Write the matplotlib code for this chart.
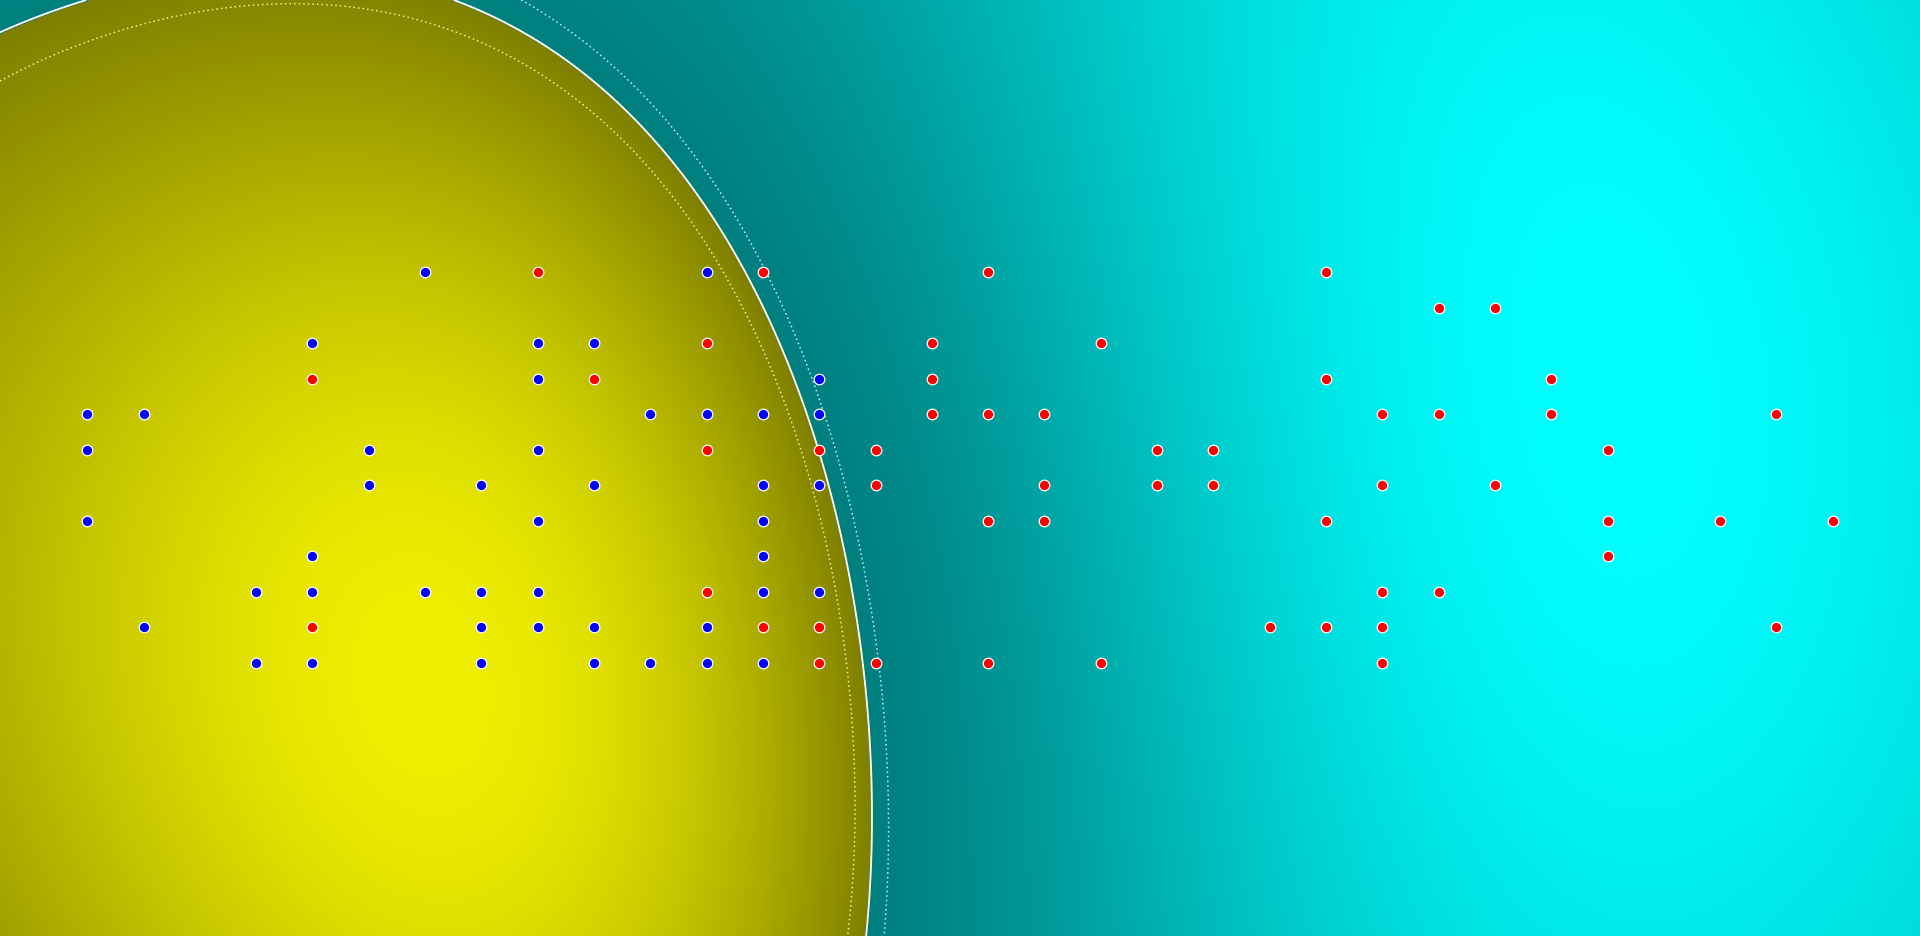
import numpy as np
import matplotlib
matplotlib.use("Agg")
import matplotlib.pyplot as plt

# ---- data: grid coordinates of the two classes ----
blue_x = [6, 11, 4, 8, 9, 8, 13, 0, 1, 10, 11, 12, 13, 0, 5, 8, 5, 7, 9, 12, 13, 0, 8, 12, 4, 12,
          3, 4, 6, 7, 8, 12, 13, 1, 7, 8, 9, 11, 3, 4, 7, 9, 10, 11, 12]
blue_y = [0, 0, 2, 2, 2, 3, 3, 4, 4, 4, 4, 4, 4, 5, 5, 5, 6, 6, 6, 6, 6, 7, 7, 7, 8, 8,
          9, 9, 9, 9, 9, 9, 9, 10, 10, 10, 10, 10, 11, 11, 11, 11, 11, 11, 11]
red_x = [8, 12, 16, 22, 24, 25, 11, 15, 18, 4, 9, 15, 22, 26, 15, 16, 17, 23, 24, 26, 30,
         11, 13, 14, 19, 20, 27, 14, 17, 19, 20, 23, 25, 16, 17, 22, 27, 29, 31, 27,
         11, 23, 24, 4, 12, 13, 21, 22, 23, 30, 13, 14, 16, 18, 23]
red_y = [0, 0, 0, 0, 1, 1, 2, 2, 2, 3, 3, 3, 3, 3, 4, 4, 4, 4, 4, 4, 4,
         5, 5, 5, 5, 5, 5, 6, 6, 6, 6, 6, 6, 7, 7, 7, 7, 7, 7, 8,
         9, 9, 9, 10, 10, 10, 10, 10, 10, 10, 11, 11, 11, 11, 11]

# ---- model settings (RBF SVM) ----
GAMMA = 0.004
C_REG = 10.0
Y_SCALE = 0.54
MARGIN = 0.12
XLIM = (-1.55, 32.55)
YLIM = (18.7, -7.66)

X = np.array(list(zip(blue_x, blue_y)) + list(zip(red_x, red_y)), float)
Y = np.array([1.0] * len(blue_x) + [-1.0] * len(red_x))
SC = np.array([1.0, Y_SCALE])


def fit(Xs, y, gamma, C, eps=1e-3, maxit=30000):
    d2 = ((Xs[:, None, :] - Xs[None, :, :]) ** 2).sum(-1)
    K = np.exp(-gamma * d2)
    Q = (y[:, None] * y[None, :]) * K
    n = len(y)
    a = np.zeros(n)
    G = -np.ones(n)
    for it in range(maxit):
        up = ((y > 0) & (a < C)) | ((y < 0) & (a > 0))
        low = ((y < 0) & (a < C)) | ((y > 0) & (a > 0))
        vu = np.where(up, -y * G, -np.inf)
        i = int(np.argmax(vu))
        Gmax = vu[i]
        Gmax2 = np.where(low, y * G, -np.inf).max()
        if Gmax + Gmax2 < eps:
            break
        bb = Gmax + y * G
        quad = 2.0 - 2.0 * K[i]
        quad = np.where(quad <= 0, 1e-12, quad)
        obj = np.where(low & (bb > 0), -(bb * bb) / quad, np.inf)
        j = int(np.argmin(obj))
        ai, aj = a[i], a[j]
        if y[i] != y[j]:
            qc = max(2.0 + 2.0 * Q[i, j], 1e-12)
            delta = (-G[i] - G[j]) / qc
            diff = a[i] - a[j]
            a[i] += delta; a[j] += delta
            if diff > 0:
                if a[j] < 0: a[j] = 0; a[i] = diff
            else:
                if a[i] < 0: a[i] = 0; a[j] = -diff
            if diff > 0:
                if a[i] > C: a[i] = C; a[j] = C - diff
            else:
                if a[j] > C: a[j] = C; a[i] = C + diff
        else:
            qc = max(2.0 - 2.0 * Q[i, j], 1e-12)
            delta = (G[i] - G[j]) / qc
            s = a[i] + a[j]
            a[i] -= delta; a[j] += delta
            if s > C:
                if a[i] > C: a[i] = C; a[j] = s - C
            else:
                if a[j] < 0: a[j] = 0; a[i] = s
            if s > C:
                if a[j] > C: a[j] = C; a[i] = s - C
            else:
                if a[i] < 0: a[i] = 0; a[j] = s
        G += Q[:, i] * (a[i] - ai) + Q[:, j] * (a[j] - aj)
    free = (a > 1e-8) & (a < C - 1e-8)
    if free.any():
        rho = (y * G)[free].mean()
    else:
        yG = y * G
        ub = min([yG[k] for k in range(n) if (a[k] >= C - 1e-8 and y[k] < 0) or (a[k] <= 1e-8 and y[k] > 0)] + [np.inf])
        lb = max([yG[k] for k in range(n) if not ((a[k] >= C - 1e-8 and y[k] < 0) or (a[k] <= 1e-8 and y[k] > 0))] + [-np.inf])
        rho = (ub + lb) / 2
    return a, rho


alpha, rho = fit(X * SC, Y, GAMMA, C_REG)

xs = np.linspace(XLIM[0], XLIM[1], 960)
ys = np.linspace(YLIM[1], YLIM[0], 468)
GX, GY = np.meshgrid(xs, ys)
P = np.c_[GX.ravel(), GY.ravel()]
F = np.zeros(len(P))
for k in range(0, len(P), 50000):
    chunk = P[k:k + 50000]
    d2 = (((chunk[:, None, :] - X[None, :, :]) * SC) ** 2).sum(-1)
    F[k:k + 50000] = np.exp(-GAMMA * d2) @ (alpha * Y) - rho
F = F.reshape(GX.shape)

fpos = max(F.max(), 1e-9)
fneg = max(-F.min(), 1e-9)
tpos = np.clip(F / fpos, 0, 1)
tneg = np.clip(-F / fneg, 0, 1) ** 1.25
img = np.zeros(F.shape + (3,))
vy = 0.5 + 0.44 * tpos
vc = 0.5 + 0.5 * tneg
pos = F > 0
img[..., 0] = np.where(pos, vy, 0.0)
img[..., 1] = np.where(pos, vy, vc)
img[..., 2] = np.where(pos, 0.0, vc)

fig = plt.figure(figsize=(19.2, 9.36), dpi=100)
ax = fig.add_axes([0, 0, 1, 1])
ax.imshow(img, extent=(XLIM[0], XLIM[1], YLIM[1], YLIM[0]), origin='lower',
          aspect='auto', interpolation='bilinear', zorder=0)
ax.contour(GX, GY, F, levels=[0.0], colors=['white'], linewidths=1.3, zorder=2)
ax.contour(GX, GY, F, levels=[MARGIN], colors=['#f2f28a'], linewidths=1.1,
           linestyles=[(0, (1, 2))], zorder=2)
ax.contour(GX, GY, F, levels=[-MARGIN], colors=['#b8f4f4'], linewidths=1.1,
           linestyles=[(0, (1, 2))], zorder=2)
ax.scatter(blue_x, blue_y, s=58, c='#0000ff', edgecolors='white', linewidths=0.9, zorder=3)
ax.scatter(red_x, red_y, s=58, c='#ff0000', edgecolors='white', linewidths=0.9, zorder=3)
ax.set_xlim(*XLIM)
ax.set_ylim(*YLIM)
ax.axis('off')
fig.savefig("out.png", dpi=100)
